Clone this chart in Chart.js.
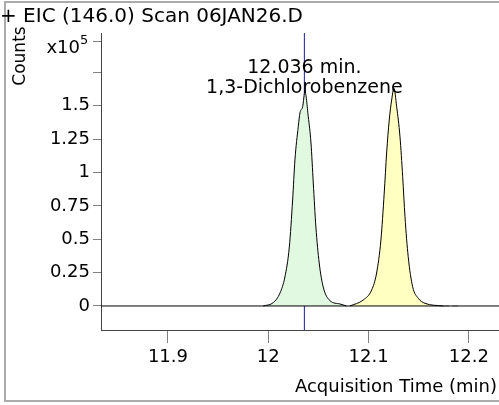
<!DOCTYPE html>
<html>
<head>
<meta charset="utf-8">
<script src="https://cdn.jsdelivr.net/npm/chart.js@4.4.0/dist/chart.umd.min.js"></script>
<style>
  body { margin: 0; background: #fff; }
  #wrap { width: 499px; height: 405px; }
</style>
</head>
<body>
<div id="wrap"><canvas id="myChart" width="499" height="405"></canvas></div>
<script>
const plotTitle = "+ EIC (146.0) Scan 06JAN26.D";
const xTitle = "Acquisition Time (min)";
const yTitle = "Counts";
const xTicks = [11.9, 12, 12.1, 12.2];
const yTicks = [0, 0.25, 0.5, 0.75, 1, 1.25, 1.5, 1.75];
const yLabelled = [0, 0.25, 0.5, 0.75, 1, 1.25, 1.5];
const xRange = [11.8333, 12.23];
const yRange = [-0.18, 2.045];
const exponentTick = 1.98;

// first peak (green), counts x10^5
const peak1Time = [11.995, 12.005, 12.0117, 12.0166, 12.021, 12.0243, 12.0266, 12.0299, 12.0316, 12.0343, 12.0366, 12.0399, 12.0426, 12.0449, 12.0475, 12.0508, 12.0548, 12.0615, 12.0715, 12.078];
const peak1Counts = [0, 0.025, 0.097, 0.217, 0.442, 0.794, 1.094, 1.343, 1.446, 1.493, 1.605, 1.418, 1.221, 0.921, 0.592, 0.322, 0.142, 0.04, 0.015, 0];

// second peak (yellow)
const peak2Time = [12.0814, 12.0947, 12.1031, 12.108, 12.1123, 12.1156, 12.118, 12.1206, 12.123, 12.1253, 12.128, 12.1313, 12.134, 12.1363, 12.1395, 12.1439, 12.1495, 12.1562, 12.1744];
const peak2Counts = [0, 0.045, 0.12, 0.247, 0.494, 0.846, 1.146, 1.393, 1.543, 1.631, 1.493, 1.268, 0.968, 0.669, 0.369, 0.145, 0.058, 0.02, 0];

const tailTime = [12.1744, 12.19];
const tailCounts = [0, 0];

const markerTime = 12.036;
const markerLabel = ["12.036 min.", "1,3-Dichlorobenzene"];

const toPoints = (xs, ys) => xs.map((x, i) => ({ x: x, y: ys[i] }));

Chart.defaults.font.family = "'DejaVu Sans', Verdana, sans-serif";
Chart.defaults.color = '#000';

//Frame and text drawn on top of the chart
const decorations = {
  id: 'decorations',
  beforeDraw(chart) {
    const ctx = chart.ctx;
    ctx.save();
    ctx.fillStyle = '#fff';
    ctx.fillRect(0, 0, chart.width, chart.height);
    ctx.strokeStyle = '#ababab';
    ctx.lineWidth = 2;
    ctx.strokeRect(5, 2, chart.width + 10, 399);
    ctx.restore();
  },
  afterDraw(chart) {
    const ctx = chart.ctx;
    const xs = chart.scales.x;
    const ys = chart.scales.y;
    ctx.save();
    ctx.fillStyle = '#000';
    ctx.textBaseline = 'middle';

    ctx.font = "20px 'DejaVu Sans'";
    ctx.textAlign = 'left';
    ctx.fillText(plotTitle, 0, 17);

    ctx.font = "19px 'DejaVu Sans'";
    ctx.textAlign = 'center';
    const mx = xs.getPixelForValue(markerTime);
    ctx.fillText(markerLabel[0], mx, 68);
    ctx.fillText(markerLabel[1], mx, 88);

    ctx.font = "18px 'DejaVu Sans'";
    ctx.textAlign = 'right';
    ctx.fillText(xTitle, 497, 387);

    const ey = ys.getPixelForValue(exponentTick);
    ctx.font = "18px 'DejaVu Sans'";
    ctx.fillText("x10", 80, ey + 7);
    ctx.font = "13px 'DejaVu Sans'";
    ctx.textAlign = 'left';
    ctx.fillText("5", 80, ey - 1);

    ctx.translate(21, 56);
    ctx.rotate(-Math.PI / 2);
    ctx.textAlign = 'center';
    ctx.font = "17px 'DejaVu Sans'";
    ctx.fillText(yTitle, 0, 0);
    ctx.restore();
  }
};

const config = {
  type: 'scatter',
  data: {
    datasets: [
      {
        data: toPoints(xRange, [0, 0]),
        showLine: true,
        borderColor: '#000',
        borderWidth: 1,
        pointRadius: 0,
      },
      {
        data: toPoints(peak1Time, peak1Counts),
        showLine: true,
        fill: 'origin',
        backgroundColor: '#e1f8e1',
        borderColor: '#000',
        borderWidth: 1,
        pointRadius: 0,
        cubicInterpolationMode: 'monotone',
      },
      {
        data: toPoints(peak2Time, peak2Counts),
        showLine: true,
        fill: 'origin',
        backgroundColor: '#ffffc2',
        borderColor: '#000',
        borderWidth: 1,
        pointRadius: 0,
        cubicInterpolationMode: 'monotone',
      },
      {
        data: toPoints(tailTime, tailCounts),
        showLine: true,
        borderColor: '#c8c8c8',
        borderWidth: 2,
        borderDash: [6, 3],
        pointRadius: 0,
      },
      {
        data: toPoints([markerTime, markerTime], yRange),
        showLine: true,
        borderColor: '#1a1aa6',
        borderWidth: 1,
        pointRadius: 0,
      },
    ]
  },
  options: {
    responsive: false,
    devicePixelRatio: 1,
    animation: false,
    layout: { padding: { left: 0, right: 0, top: 33, bottom: 0 } },
    plugins: {
      legend: { display: false },
      tooltip: { enabled: false },
    },
    scales: {
      x: {
        type: 'linear',
        min: xRange[0],
        max: xRange[1],
        afterBuildTicks: scale => { scale.ticks = xTicks.map(v => ({ value: v })); },
        afterFit: scale => { scale.height = 75; },
        ticks: {
          callback: v => String(v),
          font: { size: 18 },
          padding: 4,
          maxRotation: 0,
        },
        grid: { drawOnChartArea: false, tickLength: 13, tickColor: '#808080' },
        border: { color: '#444' },
      },
      y: {
        type: 'linear',
        min: yRange[0],
        max: yRange[1],
        afterBuildTicks: scale => { scale.ticks = yTicks.concat([exponentTick]).map(v => ({ value: v })); },
        afterFit: scale => { scale.width = 101; },
        ticks: {
          callback: v => (yLabelled.includes(v) ? String(v) : ''),
          font: { size: 18 },
          padding: 3,
        },
        grid: { drawOnChartArea: false, tickLength: 8, tickColor: '#808080' },
        border: { color: '#444' },
      }
    }
  },
  plugins: [decorations]
};

const myChart = new Chart(document.getElementById('myChart'), config);
</script>
</body>
</html>
